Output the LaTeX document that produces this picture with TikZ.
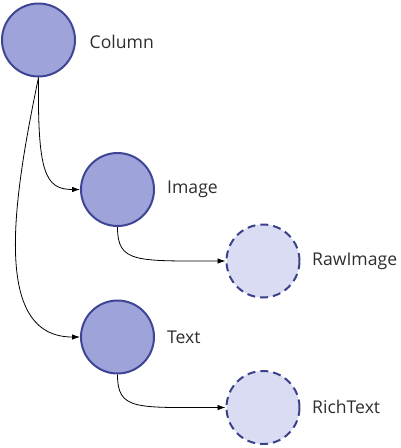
\documentclass[tikz,border=0pt]{standalone}
\usepackage{fontspec}
\setmainfont{Open Sans}
\usetikzlibrary{arrows.meta}
\definecolor{solidfill}{HTML}{9EA4DA}
\definecolor{solidline}{HTML}{3E4594}
\definecolor{dashfill}{HTML}{D9DCF2}
\definecolor{dashline}{HTML}{3B4188}
\definecolor{labelcol}{HTML}{2E2E2E}
\begin{document}
\begin{tikzpicture}[x=1pt,y=-1pt,
  solidnode/.style={circle,draw=solidline,fill=solidfill,line width=2pt,minimum size=73pt,inner sep=0pt},
  dashnode/.style={circle,draw=dashline,fill=dashfill,line width=2pt,dash pattern=on 8pt off 5pt,minimum size=73pt,inner sep=0pt},
  lbl/.style={anchor=west,inner sep=0pt,text=labelcol,font=\fontsize{17.6}{20}\selectfont},
  conn/.style={draw=black,line width=0.8pt,-{Latex[length=8pt,width=5.5pt]}}]
\useasboundingbox (0,0) rectangle (400,448);
\node[solidnode] (col) at (38.5,40) {};
\node[solidnode] (img) at (117.5,189.5) {};
\node[dashnode] (raw) at (263,261) {};
\node[solidnode] (txt) at (117.5,337) {};
\node[dashnode] (rich) at (263,407.5) {};
\node[lbl] (lcol) at (89.5,42) {Column};
\node[lbl] (limg) at (167,189) {Image};
\node[lbl] (lraw) at (312,261) {RawImage};
\node[lbl] (ltxt) at (167,337) {Text};
\node[lbl] (lrich) at (312,407) {RichText};
\draw[conn] (col.south) .. controls +(-1,95) and +(-35,0) .. (img.west);
\draw[conn] (col.south) .. controls +(-26,125) and +(-88,0) .. (txt.west);
\draw[conn] (img.south) .. controls +(0,36) and +(-90,0) .. (raw.west);
\draw[conn] (txt.south) .. controls +(0,36) and +(-90,0) .. (rich.west);
\end{tikzpicture}
\end{document}
